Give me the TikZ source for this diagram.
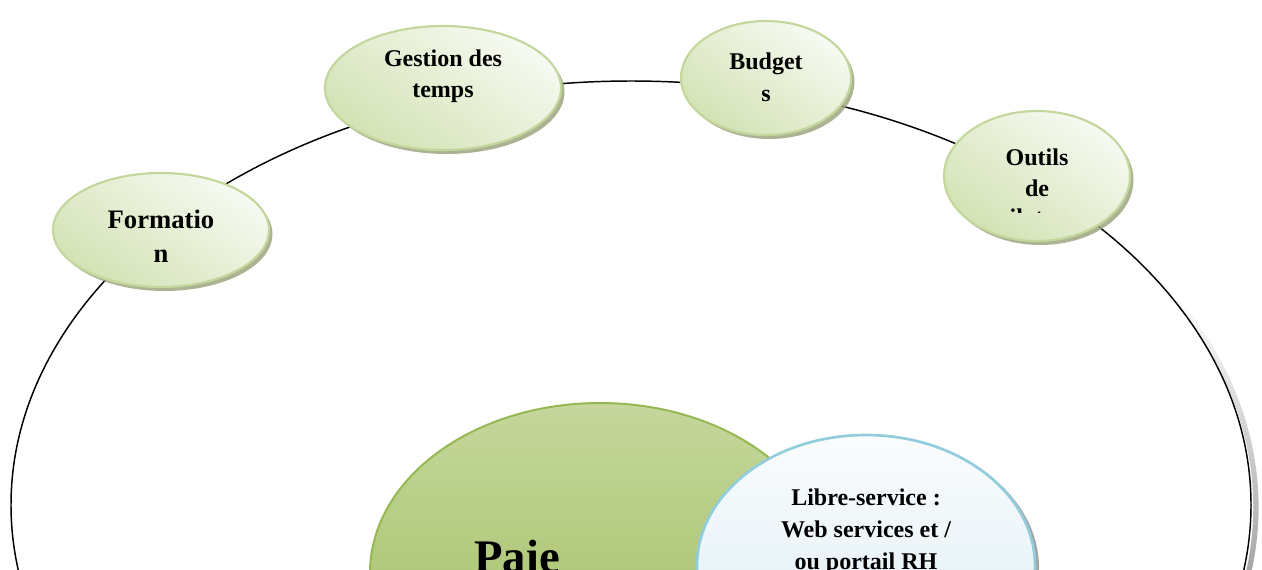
\documentclass[tikz,border=0pt]{standalone}
\usepackage{fontspec}
\setmainfont{Liberation Serif}
\usetikzlibrary{shapes.geometric,shadows,fadings}

\definecolor{leafborder}{RGB}{195,214,155}
\definecolor{leaftop}{RGB}{247,250,242}
\definecolor{leafbottom}{RGB}{211,226,180}
\definecolor{leafshadow}{RGB}{158,166,128}
\definecolor{paietop}{RGB}{197,215,156}
\definecolor{paiemid}{RGB}{156,187,90}
\definecolor{paieborder}{RGB}{150,184,82}
\definecolor{selftop}{RGB}{250,252,253}
\definecolor{selfmid}{RGB}{218,237,244}
\definecolor{selfborder}{RGB}{146,205,221}

\tikzfading[name=ringshadowfade, top color=transparent!100,
  middle color=transparent!0, bottom color=transparent!0]

\begin{document}
\begin{tikzpicture}[x=0.75pt,y=-0.75pt,
  leaf/.style={ellipse, draw=leafborder, line width=1.6pt, inner sep=0pt,
    top color=leaftop, bottom color=leafbottom, shading angle=-35,
    drop shadow={shadow xshift=2.6pt, shadow yshift=-3pt, fill=leafshadow, opacity=0.85}},
  leaftext/.style={font=\bfseries\fontsize{18}{23.5}\selectfont, align=center, inner sep=0pt},
  paie/.style={ellipse, draw=paieborder, line width=1.5pt, inner sep=0pt,
    top color=paietop, middle color=paiemid, bottom color=paiemid},
  selfsvc/.style={ellipse, draw=selfborder, line width=2pt, inner sep=0pt,
    top color=selftop, middle color=selfmid, bottom color=selfmid,
    drop shadow={shadow xshift=3pt, shadow yshift=-1.5pt, fill=black!45, opacity=0.8}},
  ring/.style={draw=black, line width=1.1pt}
]
\useasboundingbox (0,0) rectangle (1262,569);
\clip (0,0) rectangle (1262,569);

% the large cycle joining the modules, with a fading shadow on its right side
\coordinate (ringc) at (631,505);
\coordinate (shadowc) at (636,507);
\draw[line width=4pt, black!50, path fading=ringshadowfade, fit fading=true]
  (shadowc) ++(-30:620 and 424) arc [start angle=-30, end angle=25, x radius=620, y radius=424];
\path[ring] (ringc) ellipse [x radius=620, y radius=424];

% modules on the cycle
\node[leaf, minimum width=216*0.75pt, minimum height=114*0.75pt] (form) at (161,230) {};
\node[leaf, minimum width=236*0.75pt, minimum height=124*0.75pt] (temps) at (443,88) {};
\node[leaf, minimum width=170*0.75pt, minimum height=114*0.75pt] (budget) at (766,78) {};
\node[leaf, minimum width=186*0.75pt, minimum height=130*0.75pt] (outils) at (1037,176) {};

\node[leaftext, font=\bfseries\fontsize{20}{25.5}\selectfont] (formt) at (161,236) {Formatio\\n};
\node[leaftext] (tempst) at (443,76) {Gestion des\\temps};
\node[leaftext, font=\bfseries\fontsize{18}{24}\selectfont] (budgett) at (766,77) {Budget\\s};
\node[leaftext] (outilst) at (1037,173) {Outils\\de};
\begin{scope}
  \clip (900,150) rectangle (1150,212);
  \node[leaftext] (outilsx) at (1037,220) {pilotage};
\end{scope}

% core: payroll and self-service
\node[paie, minimum width=460*0.75pt, minimum height=340*0.75pt] (paie) at (600,573) {};
\node[selfsvc, minimum width=338*0.75pt, minimum height=262*0.75pt] (self) at (866,566) {};

\node[font=\bfseries\fontsize{35}{40}\selectfont, inner sep=0pt] (paiet) at (517,557) {Paie};
\node[leaftext, font=\bfseries\fontsize{18}{24}\selectfont] (selft) at (866,532)
  {Libre-service :\\Web services et /\\ou portail RH};
\end{tikzpicture}
\end{document}
